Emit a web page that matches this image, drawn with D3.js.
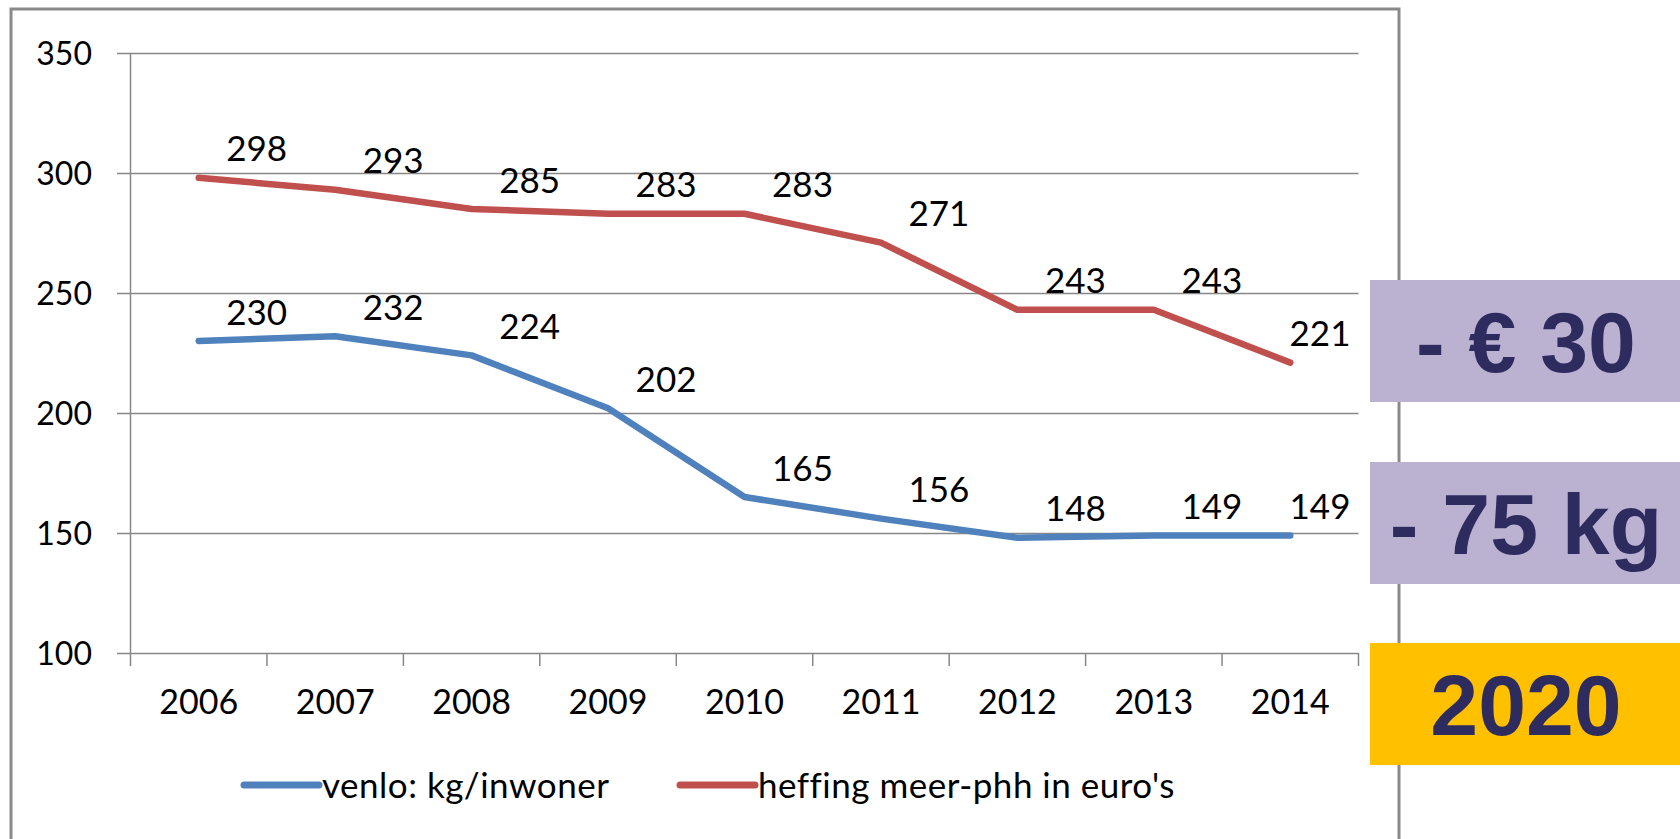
<!DOCTYPE html>
<html lang="nl">

<head>
  <meta charset="UTF-8" />
  <script src="https://cdn.jsdelivr.net/npm/d3@7/dist/d3.min.js"></script>
  <title>Venlo afval</title>
  <style>
    body { margin: 0; background: #fff; }
    svg text { font-family: Lato, "Open Sans", sans-serif; fill: #000; }
  </style>
</head>

<body>
  <svg width="1680" height="839"></svg>
  <script>
    // data
    const years = ["2006", "2007", "2008", "2009", "2010", "2011", "2012", "2013", "2014"];
    const kgPerInhabitant = [230, 232, 224, 202, 165, 156, 148, 149, 149];
    const levyEuro = [298, 293, 285, 283, 283, 271, 243, 243, 221];
    const yTicks = [100, 150, 200, 250, 300, 350];
    const seriesNames = ["venlo: kg/inwoner", "heffing meer-phh in euro's"];
    const boxTexts = ["- € 30", "- 75 kg", "2020"];

    const svg = d3.select("svg");

    // chart frame
    svg.append("rect")
      .attr("x", 11).attr("y", 9)
      .attr("width", 1388).attr("height", 860)
      .attr("fill", "#fff")
      .attr("stroke", "#8a8a8a")
      .attr("stroke-width", 3);

    const x = d3.scaleBand().domain(years).range([130.5, 1358.5]);
    const y = d3.scaleLinear().domain([100, 350]).range([653, 53]);

    // gridlines + y labels
    const yAxis = svg.append("g")
      .attr("transform", "translate(117,0)")
      .call(d3.axisLeft(y).tickValues(yTicks).tickSize(-(1358.5 - 117)).tickPadding(25));
    yAxis.select(".domain").remove();
    yAxis.selectAll("line").attr("stroke", "#878787").attr("stroke-width", 1.5);
    yAxis.selectAll("text")
      .style("font-size", "32px")
      .attr("dy", "0.36em");

    // y axis line
    svg.append("line")
      .attr("x1", 130.5).attr("x2", 130.5)
      .attr("y1", y(350)).attr("y2", y(100))
      .attr("stroke", "#878787").attr("stroke-width", 1.5);

    // x ticks sit on the band edges, like excel
    const edges = d3.range(years.length + 1).map(i => x.range()[0] + i * x.step());
    svg.selectAll(".xtick")
      .data(edges)
      .enter()
      .append("line")
      .attr("x1", d => d).attr("x2", d => d)
      .attr("y1", y(100)).attr("y2", y(100) + 13)
      .attr("stroke", "#878787").attr("stroke-width", 1.5);

    const xAxis = svg.append("g")
      .attr("transform", `translate(0,${y(100)})`)
      .call(d3.axisBottom(x).tickSize(0).tickPadding(49));
    xAxis.select(".domain").remove();
    xAxis.selectAll("text")
      .style("font-size", "34px")
      .attr("dy", "0.36em");

    const colors = ["#4f81bd", "#c0504d"];
    const series = [kgPerInhabitant, levyEuro];

    const line = d3.line()
      .x((d, i) => x(years[i]) + x.bandwidth() / 2)
      .y(d => y(d));

    series.forEach((vals, s) => {
      svg.append("path")
        .datum(vals)
        .attr("d", line)
        .attr("fill", "none")
        .attr("stroke", colors[s])
        .attr("stroke-width", 6.5)
        .attr("stroke-linecap", "round")
        .attr("stroke-linejoin", "round");

      svg.selectAll(".lbl" + s)
        .data(vals)
        .enter()
        .append("text")
        .attr("x", (d, i) => Math.min(x(years[i]) + x.bandwidth() / 2 + 58, 1320))
        .attr("y", d => y(d) - 29)
        .attr("dy", "0.36em")
        .attr("text-anchor", "middle")
        .style("font-size", "35px")
        .text(d => d);
    });

    // legend
    const legendX = [244, 680];
    const legend = svg.selectAll(".legend")
      .data(seriesNames)
      .enter()
      .append("g")
      .attr("transform", (d, i) => `translate(${legendX[i]},785)`);
    legend.append("line")
      .attr("x1", 0).attr("x2", 75)
      .attr("stroke", (d, i) => colors[i])
      .attr("stroke-width", 7)
      .attr("stroke-linecap", "round");
    legend.append("text")
      .attr("x", 78)
      .attr("dy", "0.36em")
      .style("font-size", "35px")
      .style("letter-spacing", "0.5px")
      .text(d => d);

    // highlight boxes on the right
    const boxTop = [280, 462, 643];
    const boxFill = ["#bbb2d2", "#bbb2d2", "#ffc000"];
    const boxes = svg.selectAll(".box")
      .data(boxTexts)
      .enter()
      .append("g")
      .attr("transform", (d, i) => `translate(1370,${boxTop[i]})`);
    boxes.append("rect")
      .attr("width", 310).attr("height", 122)
      .attr("fill", (d, i) => boxFill[i]);
    boxes.append("text")
      .attr("x", 156).attr("y", 61)
      .attr("dy", "0.36em")
      .attr("text-anchor", "middle")
      .style("font-family", "'Liberation Sans', Arial, sans-serif")
      .style("font-weight", "bold")
      .style("font-size", "86px")
      .style("fill", "#2e2b5f")
      .text(d => d);
  </script>
</body>

</html>
